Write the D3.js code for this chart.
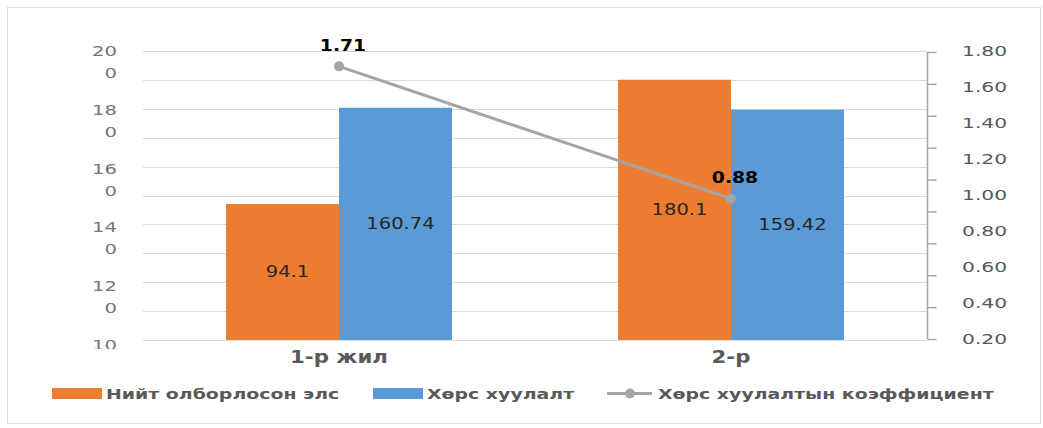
<!DOCTYPE html>
<html>
<head>
<meta charset="utf-8">
<script src="https://cdn.jsdelivr.net/npm/d3@7"></script>
<style>
  body { margin: 0; background: #fff; }
  text { font-family: "DejaVu Sans", Verdana, sans-serif; }
</style>
</head>
<body>
<div id="chart"></div>
<script>
// data
const categories = ["1-р жил", "2-р"];
const seriesNames = ["Нийт олборлосон элс", "Хөрс хуулалт"];
const extracted = [94.1, 180.1];
const stripping = [160.74, 159.42];
const coefName = "Хөрс хуулалтын коэффициент";
const coefValues = [1.71, 0.88];
const leftTicks = [200, 180, 160, 140, 120, 100];
const rightTicks = [1.80, 1.60, 1.40, 1.20, 1.00, 0.80, 0.60, 0.40, 0.20];
const colors = ["#ED7D31", "#5B9BD5"];
const lineColor = "#A5A5A5";

const width = 1043, height = 428;
const svg = d3.select("#chart").append("svg")
    .attr("width", width).attr("height", height);

// stretch text horizontally, the reference font is wide
function stretch(sel, k) {
    sel.each(function () {
        const w = this.getComputedTextLength();
        d3.select(this).attr("textLength", w * k).attr("lengthAdjust", "spacingAndGlyphs");
    });
}

svg.append("rect")
    .attr("x", 7.5).attr("y", 7.5).attr("width", 1033).attr("height", 416)
    .attr("fill", "#fff").attr("stroke", "#d9d9d9");

const x = d3.scaleBand().domain(categories).range([143, 927]);
const xInner = d3.scaleBand().domain(seriesNames).range([0, x.bandwidth()]).paddingOuter(0.735);
const y = d3.scaleLinear().domain([0, 200]).range([340, 51]);
const yR = d3.scaleLinear().domain([0, 1.8]).range([339, 52]);
// label positions in the reference are offset from the grid
const yLab = d3.scaleLinear().domain([100, 200]).range([345, 51]);
const yRLab = d3.scaleLinear().domain([0.2, 1.8]).range([339, 51]);

// gridlines
svg.append("g")
    .selectAll("line")
    .data(y.ticks(10))
    .enter().append("line")
    .attr("x1", 143).attr("x2", 927)
    .attr("y1", d => Math.round(y(d)) + 0.5).attr("y2", d => Math.round(y(d)) + 0.5)
    .attr("stroke", "#d9d9d9");

// left labels, wrapped like the reference
svg.append("clipPath").attr("id", "leftclip")
    .append("rect").attr("x", 0).attr("y", 0).attr("width", 140).attr("height", 349);
const leftG = svg.append("g").attr("clip-path", "url(#leftclip)");
leftTicks.forEach(v => {
    const s = String(v);
    const t = leftG.append("text")
        .attr("text-anchor", "end")
        .attr("font-size", 14)
        .attr("fill", "#767676");
    t.append("tspan").attr("x", 117).attr("y", yLab(v)).attr("dy", "0.36em").text(s.slice(0, 2));
    if (s.length > 2 && v !== 100) {
        t.append("tspan").attr("x", 117).attr("y", yLab(v) + 22).attr("dy", "0.36em").text(s.slice(2));
    }
});
leftG.selectAll("tspan").each(function () {
    const w = this.getComputedTextLength();
    d3.select(this).attr("textLength", w * 1.4).attr("lengthAdjust", "spacingAndGlyphs");
});

// right axis
const rightAxis = d3.axisRight(yR).tickValues(d3.range(0, 1.81, 0.2)).tickSize(9).tickFormat("");
const rg = svg.append("g").attr("transform", "translate(927.5,0)").call(rightAxis);
rg.selectAll("path, line").attr("stroke", "#a6a6a6").attr("stroke-width", 1.5);
rg.select(".domain").attr("d", `M0,${yR(1.8)}V${yR(0)}`);

svg.append("g").selectAll("text")
    .data(rightTicks)
    .enter().append("text")
    .attr("x", 962).attr("y", d => yRLab(d)).attr("dy", "0.36em")
    .attr("font-size", 14).attr("fill", "#595959")
    .text(d => d.toFixed(2))
    .call(stretch, 1.45);

// bars
const groups = svg.append("g").selectAll("g")
    .data(categories)
    .enter().append("g")
    .attr("transform", d => `translate(${x(d)},0)`);

const barData = (d, i) => [extracted[i], stripping[i]].map((v, j) => ({ v, s: seriesNames[j], j }));

groups.selectAll("rect")
    .data(barData)
    .enter().append("rect")
    .attr("x", d => xInner(d.s))
    .attr("width", xInner.bandwidth())
    .attr("y", d => y(d.v))
    .attr("height", d => y(0) - y(d.v))
    .attr("fill", d => colors[d.j]);

groups.selectAll("text.val")
    .data(barData)
    .enter().append("text")
    .attr("class", "val")
    .attr("x", d => xInner(d.s) + xInner.bandwidth() / 2 + 5)
    .attr("y", d => (y(d.v) + y(0)) / 2).attr("dy", "0.36em")
    .attr("text-anchor", "middle")
    .attr("font-size", 15).attr("fill", "#262626")
    .text(d => d.v)
    .call(stretch, 1.3);

// category labels
svg.append("g").selectAll("text")
    .data(categories)
    .enter().append("text")
    .attr("x", d => x(d) + x.bandwidth() / 2)
    .attr("y", 357).attr("dy", "0.36em")
    .attr("text-anchor", "middle")
    .attr("font-size", 17).attr("font-weight", "bold").attr("fill", "#595959")
    .text(d => d)
    .call(stretch, 1.25);

// coefficient line
const cx = d => x(d) + x.bandwidth() / 2;
const line = d3.line().x((d, i) => cx(categories[i])).y(d => yR(d));
svg.append("path")
    .datum(coefValues)
    .attr("d", line)
    .attr("fill", "none").attr("stroke", lineColor).attr("stroke-width", 3);
svg.append("g").selectAll("circle")
    .data(coefValues)
    .enter().append("circle")
    .attr("cx", (d, i) => cx(categories[i]))
    .attr("cy", d => yR(d))
    .attr("r", 5).attr("fill", lineColor);
svg.append("g").selectAll("text")
    .data(coefValues)
    .enter().append("text")
    .attr("x", (d, i) => cx(categories[i]) + 4)
    .attr("y", d => yR(d) - 21).attr("dy", "0.36em")
    .attr("text-anchor", "middle")
    .attr("font-size", 15).attr("font-weight", "bold").attr("fill", "#000")
    .text(d => d.toFixed(2))
    .call(stretch, 1.25);

// legend
const lg = svg.append("g");
const legendItems = [
    { name: seriesNames[0], type: "rect", color: colors[0], x: 52 },
    { name: seriesNames[1], type: "rect", color: colors[1], x: 373 },
    { name: coefName, type: "line", color: lineColor, x: 607 }
];
legendItems.forEach(it => {
    if (it.type === "rect") {
        lg.append("rect").attr("x", it.x).attr("y", 388).attr("width", 50).attr("height", 11).attr("fill", it.color);
    } else {
        lg.append("line").attr("x1", it.x).attr("x2", it.x + 45).attr("y1", 393.5).attr("y2", 393.5)
            .attr("stroke", it.color).attr("stroke-width", 3);
        lg.append("circle").attr("cx", it.x + 23).attr("cy", 393.5).attr("r", 5).attr("fill", it.color);
    }
    lg.append("text")
        .attr("x", it.type === "rect" ? it.x + 54 : it.x + 51)
        .attr("y", 394).attr("dy", "0.36em")
        .attr("font-size", 14).attr("font-weight", "bold").attr("fill", "#595959")
        .text(it.name)
        .call(stretch, 1.35);
});
</script>
</body>
</html>
